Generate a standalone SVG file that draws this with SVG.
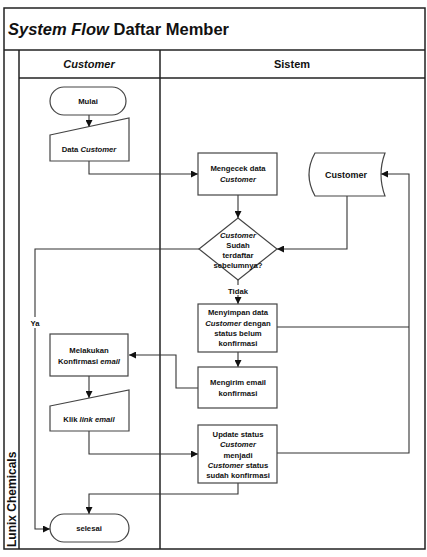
<svg xmlns="http://www.w3.org/2000/svg" width="427" height="557" viewBox="0 0 427 557">
<defs>
<marker id="ah" viewBox="0 0 10 10" refX="10" refY="5" markerWidth="7" markerHeight="7" orient="auto" markerUnits="userSpaceOnUse"><path d="M0,0 L10,5 L0,10 z" fill="#111"/></marker>
</defs>
<style>
.frame{fill:none;stroke:#222;stroke-width:1.5}
.node{fill:#fff;stroke:#444;stroke-width:1.2}
.conn{fill:none;stroke:#333;stroke-width:1.1}
text{font-family:"Liberation Sans",Arial,sans-serif;fill:#111}
.t{font-size:7.7px;font-weight:bold;text-anchor:middle}
.i{font-style:italic}
.h{font-size:11px;font-weight:bold;text-anchor:middle}
</style>
<rect width="427" height="557" fill="#fff"/>
<g id="frame">
<rect class="frame" x="4" y="8" width="421" height="541"/>
<line class="frame" x1="4" y1="50" x2="425" y2="50"/>
<line class="frame" x1="19" y1="50" x2="19" y2="549"/>
<line class="frame" x1="19" y1="78" x2="425" y2="78"/>
<line class="frame" x1="160" y1="50" x2="160" y2="549"/>
<text x="8" y="35" style="font-size:16.5px;font-weight:bold"><tspan font-style="italic">System Flow</tspan> Daftar Member</text>
<text class="h i" x="89" y="68">Customer</text>
<text class="h" x="292" y="68">Sistem</text>
<text transform="translate(16,547) rotate(-90)" style="font-size:12px;font-weight:bold">Lunix Chemicals</text>
</g>
<g id="connectors">
<line class="conn" x1="89" y1="115" x2="89" y2="127" marker-end="url(#ah)"/>
<polyline class="conn" points="89,161 89,174 198,174" marker-end="url(#ah)"/>
<line class="conn" x1="238" y1="195" x2="238" y2="218" marker-end="url(#ah)"/>
<polyline class="conn" points="347,196 347,249 277,249" marker-end="url(#ah)"/>
<polyline class="conn" points="199,249 35,249 35,529 50,529" marker-end="url(#ah)"/>
<line class="conn" x1="238" y1="280" x2="238" y2="304" marker-end="url(#ah)"/>
<polyline class="conn" points="277,327 409,327"/>
<polyline class="conn" points="277,453 409,453 409,174 381,174" marker-end="url(#ah)"/>
<line class="conn" x1="238" y1="352" x2="238" y2="367" marker-end="url(#ah)"/>
<polyline class="conn" points="198,388 176,388 176,355 129,355" marker-end="url(#ah)"/>
<line class="conn" x1="89" y1="376" x2="89" y2="398" marker-end="url(#ah)"/>
<polyline class="conn" points="89,431 89,454 198,454" marker-end="url(#ah)"/>
<polyline class="conn" points="238,483 238,494 89,494 89,514" marker-end="url(#ah)"/>
<rect x="29" y="317" width="13" height="11" fill="#fff"/>
<text x="35" y="326" class="t">Ya</text>
<rect x="226" y="285" width="24" height="10" fill="#fff"/>
<text x="238" y="294" class="t">Tidak</text>
</g>
<g id="mulai">
<rect class="node" x="50" y="87" width="76" height="28" rx="14"/>
<text class="t" x="88" y="104">Mulai</text>
</g>
<g id="data-customer">
<path class="node" d="M50,135 L129,118 L129,161 L50,161 Z"/>
<text class="t" x="89" y="152">Data <tspan class="i">Customer</tspan></text>
</g>
<g id="mengecek">
<rect class="node" x="198" y="153" width="79" height="42"/>
<text class="t" x="238" y="171">Mengecek data</text>
<text class="t i" x="238" y="182">Customer</text>
</g>
<g id="customer-db">
<path class="node" d="M315,153 L385,153 Q377,174.5 385,196 L315,196 Q303,174.5 315,153 Z"/>
<text class="t" x="346" y="178" style="font-size:9px;font-weight:bold">Customer</text>
</g>
<g id="decision">
<polygon class="node" points="238,218 277,249 238,280 199,249"/>
<text class="t i" x="238" y="238">Customer</text>
<text class="t" x="238" y="248">Sudah</text>
<text class="t" x="238" y="258">terdaftar</text>
<text class="t" x="238" y="268">sebelumnya?</text>
</g>
<g id="menyimpan">
<rect class="node" x="198" y="304" width="79" height="48"/>
<text class="t" x="238" y="315">Menyimpan data</text>
<text class="t" x="238" y="326"><tspan class="i">Customer</tspan> dengan</text>
<text class="t" x="238" y="336">status belum</text>
<text class="t" x="238" y="346">konfirmasi</text>
</g>
<g id="mengirim">
<rect class="node" x="198" y="367" width="79" height="41"/>
<text class="t" x="238" y="385">Mengirim email</text>
<text class="t" x="238" y="396">konfirmasi</text>
</g>
<g id="melakukan">
<rect class="node" x="50" y="334" width="78" height="42"/>
<text class="t" x="89" y="353">Melakukan</text>
<text class="t" x="89" y="364">Konfirmasi <tspan class="i">email</tspan></text>
</g>
<g id="klik">
<path class="node" d="M50,406 L129,390 L129,431 L50,431 Z"/>
<text class="t" x="89" y="422">Klik <tspan class="i">link email</tspan></text>
</g>
<g id="update">
<rect class="node" x="198" y="425" width="79" height="58"/>
<text class="t" x="238" y="437">Update status</text>
<text class="t i" x="238" y="447">Customer</text>
<text class="t" x="238" y="458">menjadi</text>
<text class="t" x="238" y="468"><tspan class="i">Customer</tspan> status</text>
<text class="t" x="238" y="478">sudah konfirmasi</text>
</g>
<g id="selesai">
<rect class="node" x="50" y="514" width="79" height="28" rx="14"/>
<text class="t" x="89" y="531">selesai</text>
</g>
</svg>
